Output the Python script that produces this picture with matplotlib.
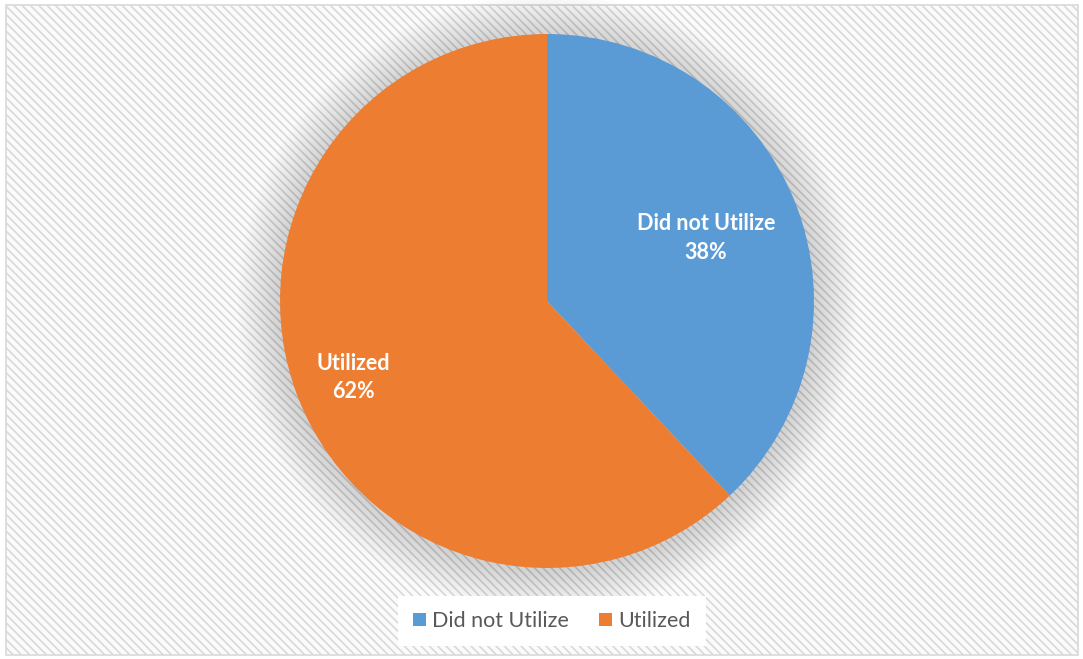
import matplotlib
matplotlib.use('Agg')
import matplotlib.pyplot as plt
from matplotlib.patches import Rectangle, Circle
import numpy as np

# --- データ ---
categories = ['Did not Utilize', 'Utilized']
shares = [38, 62]
pct_labels = ['38%', '62%']
colors = ['#5B9BD5', '#ED7D31']

# ラベルの半径位置 (円の半径比)
LABEL_R = [0.64, 0.78]

plt.rcParams['font.family'] = ['Lato', 'DejaVu Sans']
plt.rcParams['hatch.color'] = '#f2f2f2'
plt.rcParams['hatch.linewidth'] = 1.2

W, H = 1083, 659
fig = plt.figure(figsize=(W / 100, H / 100), dpi=100)
fig.patch.set_facecolor('white')

# --- 背景 (斜線模様 + 枠) ---
bg_ax = fig.add_axes([0, 0, 1, 1], zorder=0)
bg_ax.set_xlim(0, W)
bg_ax.set_ylim(H, 0)
bg_ax.axis('off')
bg_ax.add_patch(Rectangle((6, 5), 1072, 650, facecolor='#fbfbfb', edgecolor='#d9d9d9',
                          linewidth=1.2, hatch='\\\\\\\\'))

# --- 円グラフ ---
cx, cy, r = 547, 301, 267
pad = 1.25
ax = fig.add_axes([(cx - r * pad) / W, 1 - (cy + r * pad) / H, 2 * r * pad / W, 2 * r * pad / H],
                  zorder=1)
ax.patch.set_alpha(0)

# ぼかし影
n_sh = 20
for k in range(n_sh):
    rr = 1.0 + 0.008 * (n_sh - k)
    ax.add_patch(Circle((0, -0.008), rr, facecolor='#000000', edgecolor='none', alpha=0.009, zorder=1))

wedges, _ = ax.pie(shares, colors=colors, startangle=90, counterclock=False, radius=1.0,
                   wedgeprops=dict(linewidth=0, zorder=2))
ax.set_xlim(-pad, pad)
ax.set_ylim(-pad, pad)
ax.set_aspect('equal')
ax.axis('off')

for w, cat, pct, lr in zip(wedges, categories, pct_labels, LABEL_R):
    ang = np.deg2rad((w.theta1 + w.theta2) / 2)
    ax.text(lr * np.cos(ang), lr * np.sin(ang), f'{cat}\n{pct}', ha='center', va='center',
            color='white', fontsize=15.5, fontweight='bold', linespacing=1.45, zorder=5)

# --- 凡例 ---
leg = fig.legend(wedges, categories, loc='center', bbox_to_anchor=(552 / W, 1 - 621 / H),
                 ncol=2, frameon=True, fontsize=15.5, handlelength=0.6, handleheight=0.6,
                 handletextpad=0.3, columnspacing=1.4, borderpad=0.7)
leg.set_zorder(3)
leg.get_frame().set_facecolor('white')
leg.get_frame().set_edgecolor('none')
leg.get_frame().set_alpha(1)
leg.get_frame().set_boxstyle('square', pad=0)
for t in leg.get_texts():
    t.set_color('#595959')

fig.savefig('out.png', dpi=100)
